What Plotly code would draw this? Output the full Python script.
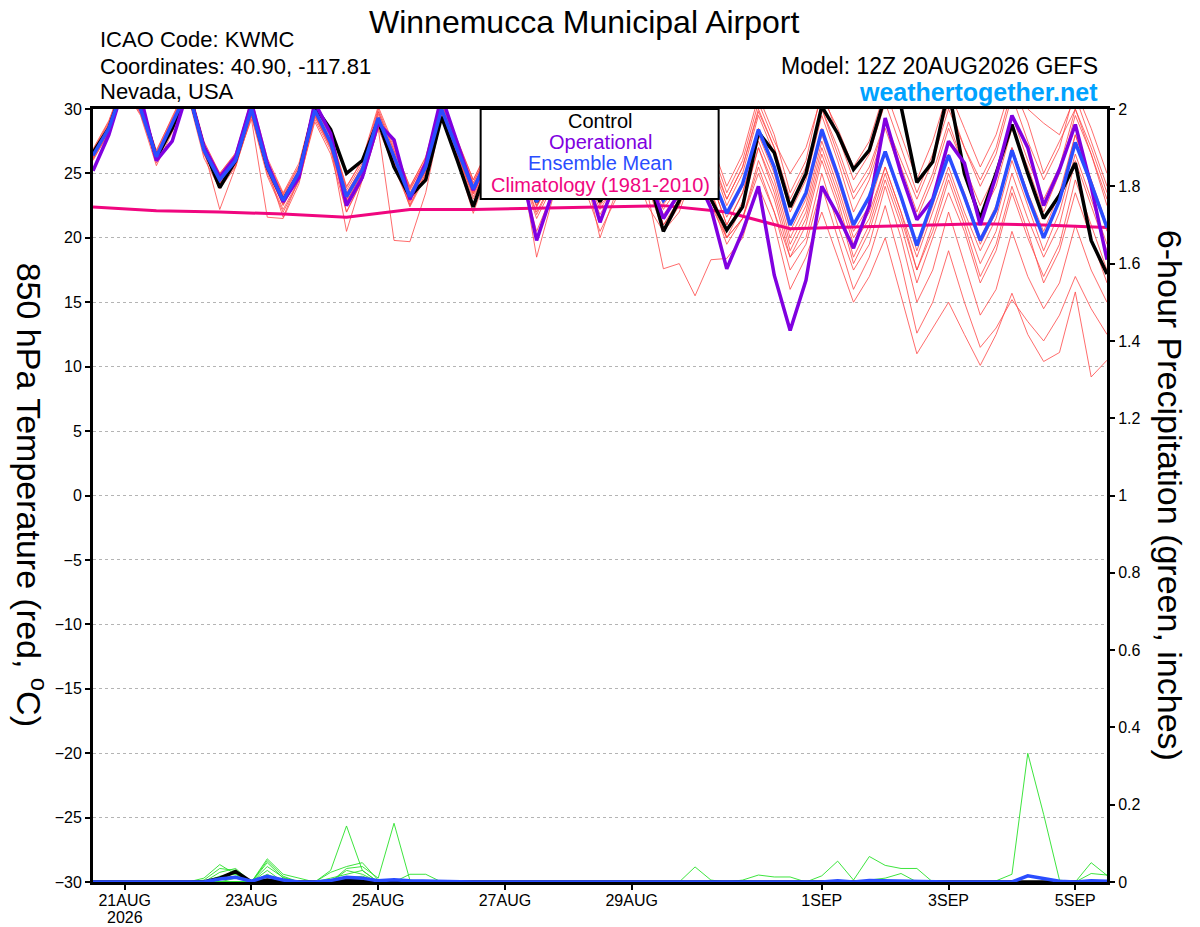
import pandas as pd
import plotly.graph_objects as go

# 6-hourly valid times of the GEFS run (12Z 20AUG2026) and daily climatology times
times = pd.date_range("2026-08-20 12:00", periods=65, freq="6h")
clim_times = pd.date_range("2026-08-20 12:00", periods=17, freq="1D")

# 850 hPa temperature (C)
temp_mean = [26.4, 28.5, 32, 30, 26.3, 28.9, 31.5, 26.8, 24.5, 26, 30, 25.5,
             22.9, 25.1, 29.9, 27.4, 23.2, 25.3, 29.3, 26.3, 23.2, 25.5, 30, 26.8,
             23.8, 26.3, 29.5, 26, 22.8, 25, 29, 26, 23, 25, 28.5, 25.5,
             22.9, 24.5, 28, 25, 21.9, 24.2, 28.4, 25.5, 21, 23.5, 28.4, 24.9,
             21, 23.2, 26.7, 23.2, 19.4, 22.9, 26.4, 23.2, 19.8, 22.2, 26.8, 23.2,
             20, 22.9, 27.4, 24.2, 20.8]
temp_control = [26.6, 28.5, 32, 30.5, 26.2, 28.5, 31.5, 27, 23.9, 26, 30.2, 25.5,
                22.9, 25, 30.2, 28.4, 25, 26, 29.1, 25.5, 23.2, 24.5, 29.4, 26,
                22.4, 26, 29.5, 25.5, 22.8, 25, 29, 25.5, 22.8, 25, 28.5, 25,
                20.5, 22.9, 27, 23, 20.6, 22.4, 28.2, 26.6, 22.4, 25, 30.2, 28.1,
                25.3, 26.8, 31, 30.2, 24.3, 25.9, 31.5, 25, 21.5, 25, 28.8, 25,
                21.5, 23.3, 25.8, 19.8, 17.2]
temp_oper = [25.2, 28, 32, 31, 26, 27.5, 31.5, 27.1, 24.7, 26.3, 30.5, 25.8,
             22.8, 24.7, 30.5, 28.1, 22.5, 24.7, 28.9, 27.6, 23, 25.8, 31, 27.4,
             23.7, 26.5, 29.5, 25.5, 19.8, 23.5, 28.5, 25.5, 21.2, 24.5, 28.5, 25,
             21.5, 23.5, 25, 22.3, 17.6, 20.5, 24, 17.1, 12.8, 16.7, 24, 21.8,
             19.2, 22.5, 29.3, 25, 21.4, 23, 27.5, 25.8, 21, 24.8, 29.5, 27,
             22.5, 25.3, 28.8, 24, 18.3]
temp_clim = [22.4, 22.1, 22.0, 21.85, 21.6, 22.2, 22.2, 22.3, 22.4, 22.5,
             22.0, 20.7, 20.85, 21.0, 21.1, 21.0, 20.8]

temp_m01 = [26.8, 29, 32.5, 30.5, 26.8, 29.3, 32, 27.5, 25, 26.5, 30.8, 26.2,
            23.5, 25.8, 30.5, 28, 24, 26, 30, 27, 24, 26.2, 30.8, 27.5,
            24.5, 27, 30.5, 27, 23.8, 26, 30.2, 27, 24, 26.5, 30, 27,
            24.5, 26.5, 30.5, 27.5, 24, 26.5, 31, 28, 23.5, 26, 31.5, 28,
            24.5, 26.5, 30.5, 27, 23.5, 26.5, 30.5, 27, 24, 26.5, 31, 27.5,
            24.5, 27, 31.5, 28.5, 25]
temp_m02 = [26, 28.2, 31.8, 29.8, 25.8, 28.5, 31.2, 26.5, 24.2, 25.8, 29.8, 25.2,
            22.5, 24.8, 29.5, 27, 23.5, 25.5, 29.8, 26.8, 23.8, 26, 30.5, 27.2,
            24.2, 26.8, 30.2, 26.8, 23.5, 25.8, 30, 27, 23.8, 26, 29.8, 26.5,
            24, 26, 29.8, 27, 23.5, 26, 30.5, 27.5, 25, 27, 31, 28.5,
            25.5, 27.5, 31.5, 28, 24.5, 27.5, 31.5, 28.5, 25.5, 28, 32, 29,
            25, 27.5, 30, 27, 23.5]
temp_m03 = [26.6, 28.8, 32.3, 30.2, 26.5, 29, 31.8, 27, 24.8, 26.2, 30.3, 25.8,
            23.2, 25.3, 30.2, 27.8, 23.4, 25.6, 29.6, 26.6, 23.5, 25.8, 30.3, 27,
            24, 26.6, 30, 26.5, 23.2, 25.5, 29.6, 26.4, 23.4, 25.5, 29, 26,
            23.5, 25.2, 29, 26, 22.5, 25, 29.5, 26.5, 22, 24.5, 29.5, 26,
            22, 24.5, 28.5, 25, 21.5, 24.5, 28.5, 25.5, 21.5, 24, 28.5, 25.5,
            22, 25, 29.5, 26.5, 23]
temp_m04 = [26.2, 28.3, 31.6, 29.6, 26, 28.6, 31.2, 26.5, 24.2, 25.7, 29.6, 25.2,
            22.6, 24.8, 29.5, 27, 22.8, 25, 29, 26, 22.9, 25.2, 29.6, 26.4,
            23.4, 26, 29.2, 25.6, 22.4, 24.6, 28.6, 25.6, 22.6, 24.6, 28.2, 25,
            22.2, 24, 27.5, 24.5, 21, 23.5, 28, 25, 20.5, 23, 28, 24.5,
            20.5, 22.5, 26.5, 23, 19, 22.5, 26.5, 23, 19.5, 22, 27, 23.5,
            20, 23, 28, 24.5, 21]
temp_m05 = [26.3, 28.6, 32, 30.1, 26.4, 29, 31.6, 26.9, 24.4, 26, 30.2, 25.4,
            22.8, 25.2, 30, 27.2, 22.8, 25, 29, 26, 22.6, 25, 29.8, 26.4,
            23.2, 25.8, 29.2, 25.4, 22, 24.4, 28.4, 25.2, 22.2, 24.2, 27.8, 24.6,
            21.5, 23.2, 27, 23.5, 20.5, 22.8, 27, 24, 19.5, 22, 27, 23.5,
            19.5, 21.5, 25.5, 22, 17.5, 21, 25, 21.5, 18, 20.5, 25, 21.5,
            18.5, 21, 26, 22.5, 19]
temp_m06 = [26.5, 28.4, 31.9, 29.9, 26.1, 28.7, 31.3, 26.6, 24, 25.6, 29.5, 25,
            22.2, 24.5, 29.2, 26.8, 22.5, 24.8, 28.8, 25.8, 22.8, 25.2, 29.5, 26.2,
            23, 25.8, 29, 25.2, 21.5, 24, 28, 24.8, 21.5, 23.8, 27.5, 24,
            20.5, 22.5, 26.5, 23, 19.5, 21.5, 26, 23, 18.5, 21, 26, 22.5,
            18, 20.5, 24.5, 21, 16.5, 20, 23.5, 20.5, 16.5, 19, 23.5, 20,
            17, 19.5, 24.5, 21, 17.5]
temp_m07 = [26.1, 28.1, 31.5, 29.5, 25.6, 28.2, 31, 26.2, 23.8, 25.5, 29.4, 24.8,
            22, 24.4, 29, 26.5, 22, 24.5, 28.5, 25.5, 22.5, 25, 29.2, 26,
            21.9, 25.5, 28.8, 25, 20.5, 23.5, 27.5, 24, 20.5, 23, 27, 23.5,
            17.6, 18, 15.5, 18.3, 18.4, 20, 24, 21, 16, 18.5, 22, 18.5,
            15, 17, 20, 15.5, 11, 13, 15, 12.5, 10.1, 12.5, 15.7, 12.5,
            10.4, 11.1, 15.8, 9.2, 10.5]
temp_m08 = [26.3, 28.6, 32.1, 30, 26.2, 28.8, 31.4, 26.7, 24.3, 25.9, 29.9, 25.3,
            22.7, 25, 29.7, 27.2, 23, 25.1, 29.1, 26.1, 23, 25.3, 29.8, 26.6,
            23.6, 26.1, 29.3, 25.8, 22.5, 24.7, 28.7, 25.7, 22.7, 24.7, 28.2, 25.2,
            21, 22.5, 25.5, 22.5, 20, 21.5, 25, 22, 17.5, 19.5, 24, 20,
            16, 18.5, 22.5, 18, 12.6, 15, 19, 15, 11.5, 13, 15.2, 13.5,
            12, 14, 17, 14.5, 12.5]
temp_m09 = [26.9, 29.1, 32.4, 30.4, 26.7, 29.4, 31.9, 27.3, 25, 26.6, 30.6, 26,
            23.4, 25.6, 30.3, 27.9, 23.7, 25.8, 29.8, 26.8, 23.7, 26, 30.4, 27.3,
            24.3, 26.8, 30, 26.5, 23.4, 25.6, 29.6, 26.6, 23.6, 25.6, 29.2, 26.2,
            23.8, 25.5, 29, 26, 23, 25.5, 30, 27, 22.5, 25, 30, 26.5,
            23, 25, 29, 25.5, 22, 25, 29, 25.5, 22.5, 25, 29.5, 26,
            23, 25.5, 30, 26.5, 22.5]
temp_m10 = [26.2, 28.2, 31.8, 29.7, 26.2, 28.8, 31.4, 26.7, 24.1, 25.9, 29.8, 25.4,
            21.6, 24.6, 29.6, 27.1, 20.5, 24.5, 29, 25.9, 22.4, 24.8, 29.4, 26.2,
            23.4, 25.9, 29.1, 25.4, 21.8, 24.3, 28.3, 25, 21.8, 24, 27.8, 24.4,
            21, 23, 26.8, 23.8, 20, 22.5, 27, 23.5, 19, 21.5, 26.5, 23,
            18.5, 21, 25, 21.5, 17.5, 20.5, 24.5, 21, 17, 19.5, 24, 20.5,
            16.5, 19, 23.5, 20, 16.5]
temp_m11 = [26.4, 28.4, 31.7, 29.8, 26.2, 28.7, 31.2, 26.6, 24.2, 25.8, 29.2, 21.6,
            21.5, 24.2, 29.4, 27, 23, 25.2, 29.2, 26.2, 23, 25.3, 29.8, 26.5,
            23.6, 26.2, 29.3, 25.8, 22.5, 24.8, 28.8, 25.8, 22.8, 24.8, 28.4, 25.4,
            22.6, 24.2, 28, 24.8, 21.6, 24, 28.5, 25.5, 21, 23.5, 28.5, 25,
            21, 23, 26.5, 23, 19.5, 23, 26.5, 23.5, 20, 22.5, 27, 23.5,
            20.5, 23.5, 28, 24.5, 20.5]
temp_m12 = [26.7, 28.9, 32.3, 30.4, 26.6, 29.2, 31.8, 27.2, 24.9, 26.4, 30.4, 25.9,
            23.3, 25.5, 30.3, 27.8, 23.9, 26.1, 30.2, 27.2, 23.9, 26.3, 30.8, 27.6,
            24.5, 27, 30.3, 26.8, 23.6, 26, 29.8, 26.8, 23.9, 26, 29.6, 26.6,
            23.9, 25.8, 29.5, 26.5, 23, 25.5, 29.8, 27, 23, 25.5, 30, 27,
            23.5, 25.5, 29, 26, 23, 26, 30, 27, 24.5, 27, 31.5, 30,
            28.9, 28, 31, 27.5, 24]
temp_m13 = [26.3, 28.5, 31.9, 30, 26.3, 28.9, 31.4, 26.8, 22.2, 25.5, 29.6, 25.3,
            22.6, 25, 29.8, 27.3, 22, 24.5, 28.5, 19.8, 19.7, 23.5, 29.5, 26.5,
            23.5, 26, 29.2, 25.8, 18.5, 23, 28.5, 25.5, 20, 23.5, 28, 24.8,
            21.8, 23.5, 27.5, 24.5, 21, 23.5, 27.5, 24.5, 20, 22.5, 27.5, 24,
            20, 22, 25.5, 22, 18.5, 22, 25.5, 22, 19, 21.5, 26, 22.5,
            19, 22, 26.5, 23, 19.5]
temp_m14 = [26.5, 28.7, 32.1, 30.1, 26.4, 29.1, 31.7, 27, 24.6, 26.2, 30.1, 25.6,
            23, 25.3, 30, 27.5, 23.3, 25.4, 29.4, 26.4, 23.3, 25.6, 30.1, 26.9,
            23.9, 26.4, 29.6, 26.1, 22.9, 25.2, 29.1, 26.1, 22.5, 24, 26, 22.5,
            20.5, 22, 25.5, 23, 20, 21.5, 25.5, 22, 18.5, 20, 25, 21,
            17.5, 19.5, 24, 20, 15, 17.5, 22, 18, 14, 16, 20.5, 17,
            14.5, 16.5, 21, 17.5, 15]

# 6-hour precipitation (inches)
prcp_mean = [0, 0, 0, 0, 0, 0, 0, 0, .008, .012, .002, .015, .005,
             0, 0, .004, .012, .01, .003, .006, .003, .002, 0, 0, 0, 0,
             0, 0, 0, 0, 0, 0, 0, 0, 0, 0, 0, 0, .002,
             0, 0, 0, .001, 0, 0, 0, 0, .003, 0, .004, .003, .002,
             0, 0, 0, 0, 0, 0, 0, .016, .01, .002, 0, .003, .002]
prcp_control = [0, 0, 0, 0, 0, 0, 0, 0, .01, .027, 0, .005, 0,
                0, 0, 0, .005, .003, 0, 0, 0, 0, 0, 0, 0, 0,
                0, 0, 0, 0, 0, 0, 0, 0, 0, 0, 0, 0, 0,
                0, 0, 0, 0, 0, 0, 0, 0, 0, 0, 0, 0, 0,
                0, 0, 0, 0, 0, 0, 0, 0, 0, 0, 0, 0, 0]
prcp_m01 = [0, 0, 0, 0, 0, 0, 0, .01, .045, .02, 0, .06, .02,
            .01, 0, .03, .145, .03, 0, 0, 0, 0, 0, 0, 0, 0,
            0, 0, 0, 0, 0, 0, 0, 0, 0, 0, 0, 0, 0,
            0, 0, 0, 0, 0, 0, 0, 0, 0, 0, 0, 0, 0,
            0, 0, 0, 0, 0, 0, 0, 0, 0, 0, 0, 0, 0]
prcp_m02 = [0, 0, 0, 0, 0, 0, 0, .005, .035, .03, 0, .055, .015,
            0, 0, .025, .04, .05, .005, 0, 0, 0, 0, 0, 0, 0,
            0, 0, 0, 0, 0, 0, 0, 0, 0, 0, 0, 0, 0,
            0, 0, 0, 0, 0, 0, 0, 0, 0, 0, 0, 0, 0,
            0, 0, 0, 0, 0, 0, 0, 0, 0, 0, 0, 0, 0]
prcp_m03 = [0, 0, 0, 0, 0, 0, 0, 0, .025, .035, 0, .05, .01,
            0, 0, 0, .035, .04, .01, .152, .005, 0, 0, 0, 0, 0,
            0, 0, 0, 0, 0, 0, 0, 0, 0, 0, 0, 0, 0,
            0, 0, 0, 0, 0, 0, 0, 0, 0, 0, 0, 0, 0,
            0, 0, 0, 0, 0, 0, 0, 0, 0, 0, 0, 0, 0]
prcp_m04 = [0, 0, 0, 0, 0, 0, 0, 0, .015, .02, 0, .04, .012,
            0, 0, 0, .03, .02, 0, 0, .02, .02, 0, 0, 0, 0,
            0, 0, 0, 0, 0, 0, 0, 0, 0, 0, 0, 0, 0,
            0, 0, 0, 0, 0, 0, 0, 0, 0, 0, 0, 0, 0,
            0, 0, 0, 0, 0, 0, 0, 0, 0, 0, 0, 0, 0]
prcp_m05 = [0, 0, 0, 0, 0, 0, 0, 0, .01, .015, 0, .03, 0,
            0, 0, 0, 0, 0, 0, 0, 0, 0, 0, 0, 0, 0,
            0, 0, 0, 0, 0, 0, 0, 0, 0, 0, 0, 0, 0,
            0, 0, 0, 0, 0, 0, 0, 0, 0, 0, 0, 0, 0,
            0, 0, 0, 0, 0, 0, 0, 0, 0, 0, 0, .022, .018]
prcp_m06 = [0, 0, 0, 0, 0, 0, 0, 0, 0, .01, 0, .02, 0,
            0, 0, 0, 0, 0, 0, 0, 0, 0, 0, 0, 0, 0,
            0, 0, 0, 0, 0, 0, 0, 0, 0, 0, 0, 0, 0,
            0, 0, 0, 0, 0, 0, 0, 0, 0, 0, 0, 0, 0,
            0, 0, 0, 0, 0, 0, 0, 0, 0, 0, 0, 0, 0]
prcp_m07 = [0, 0, 0, 0, 0, 0, 0, 0, 0, 0, 0, 0, 0,
            0, 0, .01, .02, .03, 0, 0, 0, 0, 0, 0, 0, 0,
            0, 0, 0, 0, 0, 0, 0, 0, 0, 0, 0, 0, 0,
            0, 0, 0, 0, 0, 0, 0, 0, 0, 0, 0, 0, 0,
            0, 0, 0, 0, 0, 0, 0, 0, 0, 0, 0, 0, 0]
prcp_m08 = [0, 0, 0, 0, 0, 0, 0, 0, 0, 0, 0, 0, 0,
            0, 0, 0, .01, .015, 0, 0, 0, 0, 0, 0, 0, 0,
            0, 0, 0, 0, 0, 0, 0, 0, 0, 0, 0, 0, 0,
            0, 0, 0, 0, 0, 0, 0, 0, 0, 0, 0, 0, 0,
            0, 0, 0, 0, 0, 0, 0, 0, 0, 0, 0, 0, 0]
prcp_m09 = [0, 0, 0, 0, 0, 0, 0, 0, 0, 0, 0, 0, 0,
            0, 0, 0, 0, 0, 0, 0, 0, 0, 0, 0, 0, 0,
            0, 0, 0, 0, 0, 0, 0, 0, 0, 0, 0, 0, .039,
            .005, 0, 0, 0, 0, 0, 0, 0, 0, 0, 0, 0, 0,
            0, 0, 0, 0, 0, 0, 0, 0, 0, 0, 0, 0, 0]
prcp_m10 = [0, 0, 0, 0, 0, 0, 0, 0, 0, 0, 0, 0, 0,
            0, 0, 0, 0, 0, 0, 0, 0, 0, 0, 0, 0, 0,
            0, 0, 0, 0, 0, 0, 0, 0, 0, 0, 0, 0, 0,
            0, 0, .005, .018, .013, .013, 0, 0, 0, 0, 0, 0, 0,
            0, 0, 0, 0, 0, 0, 0, 0, 0, 0, 0, 0, 0]
prcp_m11 = [0, 0, 0, 0, 0, 0, 0, 0, 0, 0, 0, 0, 0,
            0, 0, 0, 0, 0, 0, 0, 0, 0, 0, 0, 0, 0,
            0, 0, 0, 0, 0, 0, 0, 0, 0, 0, 0, 0, 0,
            0, 0, 0, 0, 0, 0, 0, .016, .054, .005, .066, .043, .035,
            .035, 0, 0, 0, 0, 0, 0, 0, 0, 0, 0, 0, 0]
prcp_m12 = [0, 0, 0, 0, 0, 0, 0, 0, 0, 0, 0, 0, 0,
            0, 0, 0, 0, 0, 0, 0, 0, 0, 0, 0, 0, 0,
            0, 0, 0, 0, 0, 0, 0, 0, 0, 0, 0, 0, 0,
            0, 0, 0, 0, 0, 0, 0, 0, 0, 0, .005, .01, .022,
            0, 0, 0, 0, 0, 0, 0, 0, 0, 0, 0, 0, 0]
prcp_m13 = [0, 0, 0, 0, 0, 0, 0, 0, 0, 0, 0, 0, 0,
            0, 0, 0, 0, 0, 0, 0, 0, 0, 0, 0, 0, 0,
            0, 0, 0, 0, 0, 0, 0, 0, 0, 0, 0, 0, 0,
            0, 0, 0, 0, 0, 0, 0, 0, 0, 0, 0, 0, 0,
            0, 0, 0, 0, 0, .003, .02, .333, .175, .005, 0, 0, 0]
prcp_m14 = [0, 0, 0, 0, 0, 0, 0, 0, 0, 0, 0, 0, 0,
            0, 0, 0, 0, 0, 0, 0, 0, 0, 0, 0, 0, 0,
            0, 0, 0, 0, 0, 0, 0, 0, 0, 0, 0, 0, 0,
            0, 0, 0, 0, 0, 0, 0, 0, 0, 0, 0, 0, 0,
            0, 0, 0, 0, 0, 0, 0, 0, 0, 0, 0, .05, .017]

temp_members = [temp_m01, temp_m02, temp_m03, temp_m04, temp_m05, temp_m06, temp_m07,
                temp_m08, temp_m09, temp_m10, temp_m11, temp_m12, temp_m13, temp_m14]
prcp_members = [prcp_m01, prcp_m02, prcp_m03, prcp_m04, prcp_m05, prcp_m06, prcp_m07,
                prcp_m08, prcp_m09, prcp_m10, prcp_m11, prcp_m12, prcp_m13, prcp_m14]

tick_dates = ["2026-08-21", "2026-08-23", "2026-08-25", "2026-08-27",
              "2026-08-29", "2026-09-01", "2026-09-03", "2026-09-05"]
tick_labels = ["21AUG", "23AUG", "25AUG", "27AUG", "29AUG", "1SEP", "3SEP", "5SEP"]

RED = "rgb(255,70,70)"
GREEN = "rgb(40,225,40)"
PURPLE = "#8000e0"
BLUE = "#2a4dff"
MAGENTA = "#f0067f"
FONT = "Liberation Sans"

fig = go.Figure()

# ensemble members
for m in temp_members:
    fig.add_trace(go.Scatter(x=times, y=m, mode="lines", line=dict(color=RED, width=0.8)))
for m in prcp_members:
    fig.add_trace(go.Scatter(x=times, y=m, mode="lines", line=dict(color=GREEN, width=0.9),
                             yaxis="y2"))

fig.add_trace(go.Scatter(x=times, y=prcp_control, mode="lines",
                         line=dict(color="black", width=3.5), yaxis="y2"))
fig.add_trace(go.Scatter(x=times, y=prcp_mean, mode="lines",
                         line=dict(color=BLUE, width=3.5), yaxis="y2"))

# bold lines
fig.add_trace(go.Scatter(x=clim_times, y=temp_clim, mode="lines",
                         line=dict(color=MAGENTA, width=3)))
fig.add_trace(go.Scatter(x=times, y=temp_control, mode="lines",
                         line=dict(color="black", width=3.5)))
fig.add_trace(go.Scatter(x=times, y=temp_oper, mode="lines",
                         line=dict(color=PURPLE, width=3.5)))
fig.add_trace(go.Scatter(x=times, y=temp_mean, mode="lines",
                         line=dict(color=BLUE, width=3.5)))

fig.update_layout(
    width=1200, height=927,
    margin=dict(l=93, r=93, t=109, b=45),
    paper_bgcolor="white", plot_bgcolor="white",
    showlegend=False,
    font=dict(family=FONT, color="black"),
    xaxis=dict(type="date", range=["2026-08-20 12:00", "2026-09-05 12:00"],
               tickvals=tick_dates, ticktext=tick_labels, tickfont=dict(size=16),
               ticks="outside", ticklen=5, tickwidth=1.5, tickcolor="black",
               ticklabelstandoff=-3,
               showgrid=False, showline=True, linewidth=3, linecolor="black",
               mirror=True, zeroline=False, automargin=False),
    yaxis=dict(range=[-30, 30], tickvals=list(range(-30, 31, 5)), tickfont=dict(size=16),
               ticks="outside", ticklen=5, tickwidth=1.5, tickcolor="black",
               showgrid=True, gridcolor="#b4b4b4", griddash="dot", gridwidth=1,
               showline=True, linewidth=3, linecolor="black", zeroline=False,
               automargin=False),
    yaxis2=dict(range=[0, 2], overlaying="y", side="right", dtick=0.2, tick0=0,
                tickfont=dict(size=16), ticks="outside", ticklen=5, tickwidth=1.5,
                tickcolor="black", showgrid=False, showline=True, linewidth=3,
                linecolor="black", zeroline=False, automargin=False),
)

# year under the first date label
fig.add_annotation(x="2026-08-21", y=-0.0456, xref="x", yref="paper", text="2026",
                   showarrow=False, font=dict(size=16), xanchor="center", yanchor="middle")

# legend box
fig.add_shape(type="rect", xref="paper", yref="paper", x0=0.3823, x1=0.6170,
              y0=0.8836, y1=1.0, fillcolor="white", line=dict(color="black", width=2),
              layer="above")
legend_items = [("Control", "black", 0.9845), ("Operational", PURPLE, 0.9573),
                ("Ensemble Mean", BLUE, 0.9301), ("Climatology (1981-2010)", MAGENTA, 0.9017)]
for txt, col, yy in legend_items:
    fig.add_annotation(x=0.5001, y=yy, xref="paper", yref="paper", text=txt,
                       showarrow=False, font=dict(size=20, color=col),
                       xanchor="center", yanchor="middle")

# header texts
fig.add_annotation(x=0.485, y=1.1125, xref="paper", yref="paper",
                   text="Winnemucca Municipal Airport", showarrow=False,
                   font=dict(size=32), xanchor="center", yanchor="middle")
for txt, yy in [("ICAO Code: KWMC", 1.0893), ("Coordinates: 40.90, -117.81", 1.0556),
                ("Nevada, USA", 1.0222)]:
    fig.add_annotation(x=0.0052, y=yy, xref="paper", yref="paper", text=txt,
                       showarrow=False, font=dict(size=22), xanchor="left", yanchor="middle")
fig.add_annotation(x=0.9931, y=1.0553, xref="paper", yref="paper",
                   text="Model: 12Z 20AUG2026 GEFS", showarrow=False,
                   font=dict(size=23), xanchor="right", yanchor="middle")
fig.add_annotation(x=0.9931, y=1.0215, xref="paper", yref="paper",
                   text="<b>weathertogether.net</b>", showarrow=False,
                   font=dict(size=25, color="#00a2ff"), xanchor="right", yanchor="middle")

# axis titles (both read top to bottom)
fig.add_annotation(x=-0.0598, y=0.5006, xref="paper", yref="paper",
                   text="850 hPa Temperature (red, <sup>o</sup>C)", textangle=90,
                   showarrow=False, font=dict(size=34), xanchor="center", yanchor="middle")
fig.add_annotation(x=1.0623, y=0.5006, xref="paper", yref="paper",
                   text="6-hour Precipitation (green, inches)", textangle=90,
                   showarrow=False, font=dict(size=34), xanchor="center", yanchor="middle")

fig.write_html("out.html", config={"displayModeBar": False},
               post_script=["document.body.style.margin='0';"])
